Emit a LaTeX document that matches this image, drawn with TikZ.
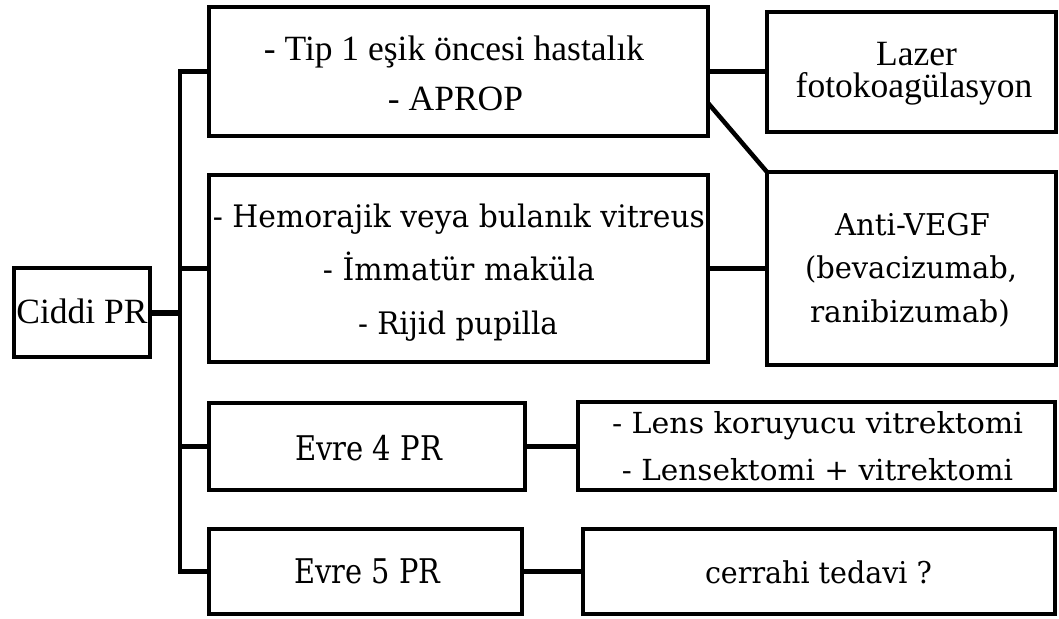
\documentclass[tikz,border=0pt]{standalone}
\usepackage{fontspec}
\setmainfont{Liberation Serif}
\newfontfamily\camb{DejaVu Serif}
\usetikzlibrary{calc}
\newcommand{\fitw}[2]{\resizebox{#1pt}{\height}{#2}}
\begin{document}
\begin{tikzpicture}[x=1pt,y=-1pt,
  box/.style={draw,line width=4.5pt,inner sep=0pt,outer sep=0pt},
  conn/.style={line width=4.5pt},
  ttxt/.style={anchor=base,inner sep=0pt,font=\fontsize{35.5}{42}\selectfont},
  ctxt/.style={anchor=base,inner sep=0pt,font=\camb\fontsize{#1}{#1}\selectfont}
]
\useasboundingbox (0,0) rectangle (1059,618);
% boxes
\node[box,minimum width=136pt,minimum height=89pt] (ciddi) at (82,312.5) {};
\node[box,minimum width=499pt,minimum height=129pt] (b1) at (458.5,71.5) {};
\node[box,minimum width=289pt,minimum height=120pt] (lazer) at (911.5,72) {};
\node[box,minimum width=499pt,minimum height=187pt] (b2) at (458.5,268.5) {};
\node[box,minimum width=289pt,minimum height=193pt] (anti) at (911.5,268.5) {};
\node[box,minimum width=316pt,minimum height=87pt] (b3) at (367,446.5) {};
\node[box,minimum width=477pt,minimum height=88pt] (lens) at (816.5,446) {};
\node[box,minimum width=313pt,minimum height=85pt] (b4) at (365.5,571.5) {};
\node[box,minimum width=472pt,minimum height=85pt] (cerr) at (819,571.5) {};
% trunk
\coordinate (tt) at (180,71.5);
\draw[conn] (b1.west) -- (b1.west -| tt) -- (b4.west -| tt) -- (b4.west);
\draw[conn] (b2.west -| tt) -- (b2.west);
\draw[conn] (b3.west -| tt) -- (b3.west);
\draw[line width=6pt] (ciddi.east) -- (ciddi.east -| tt);
% right connectors
\draw[conn] (b1.east) -- (b1.east -| lazer.west);
\draw[conn] (b2.east) -- (anti.west);
\draw[conn] (b3.east) -- (b3.east -| lens.west);
\draw[conn] (b4.east) -- (b4.east -| cerr.west);
\draw[conn] ($(b1.south east)+(0,-33)$) -- (anti.north west);
% texts
\node[ttxt] (t1a) at (454,60) {- Tip 1 eşik öncesi hastalık};
\node[ttxt] (t1b) at (455.5,110) {- APROP};
\node[ttxt] (tla) at (916.5,65) {Lazer};
\node[ttxt] (tlb) at (914,97) {fotokoagülasyon};
\node[ttxt] (tc) at (82,323) {Ciddi PR};
\node[ctxt=31] (t2a) at (459,227) {\fitw{492}{- Hemorajik veya bulanık vitreus}};
\node[ctxt=31] (t2b) at (459,280) {\fitw{272}{- İmmatür maküla}};
\node[ctxt=31] (t2c) at (458,334) {\fitw{200}{- Rijid pupilla}};
\node[ctxt=30] (taa) at (912.5,235) {\fitw{155}{Anti-VEGF}};
\node[ctxt=30] (tab) at (911,278) {\fitw{212}{(bevacizumab,}};
\node[ctxt=30] (tac) at (910,322) {\fitw{200}{ranibizumab)}};
\node[ctxt=29] (tle) at (817.5,433) {\fitw{411}{- Lens koruyucu vitrektomi}};
\node[ctxt=29] (tlf) at (817.5,480) {\fitw{391}{- Lensektomi + vitrektomi}};
\node[ctxt=34] (t3) at (368.5,460) {\fitw{147}{Evre 4 PR}};
\node[ctxt=34] (t4) at (367.5,583) {\fitw{146}{Evre 5 PR}};
\node[ctxt=30] (tce) at (818.5,583) {\fitw{227}{cerrahi tedavi ?}};
\end{tikzpicture}
\end{document}
